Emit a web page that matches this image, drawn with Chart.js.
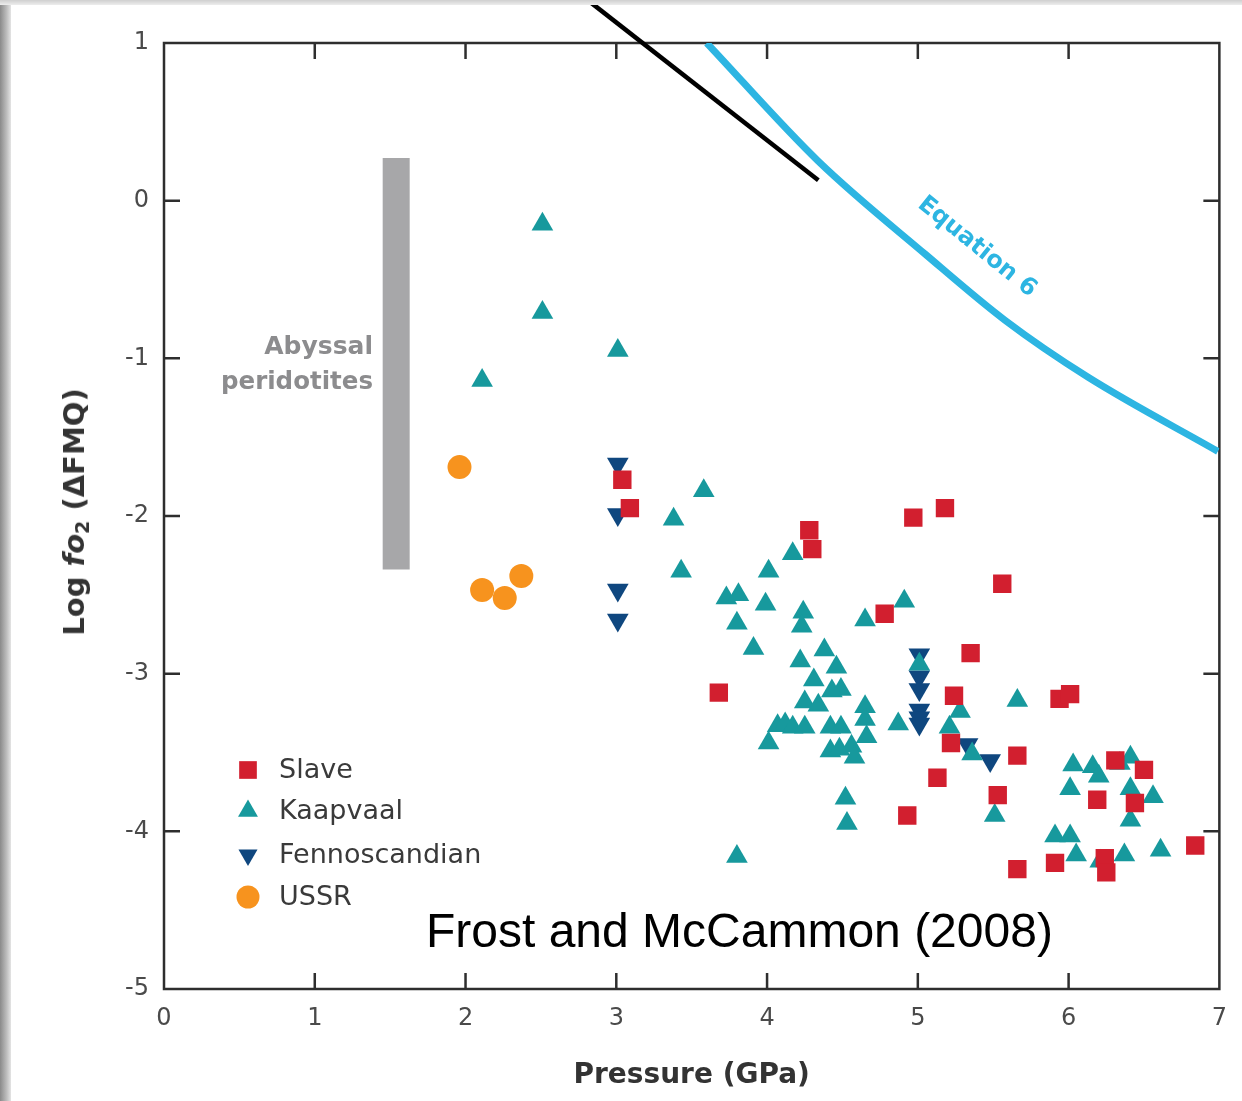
<!DOCTYPE html>
<html>
<head>
<meta charset="utf-8">
<title>Log fO2 vs pressure</title>
<script src="https://cdn.jsdelivr.net/npm/chart.js@4.4.1/dist/chart.umd.min.js"></script>
<style>
  body { margin: 0; background: #fff; }
  #wrap { position: relative; width: 1242px; height: 1101px; overflow: hidden; background: #fff; }
  #edgeLeft { position: absolute; left: 0; top: 0; width: 11px; height: 1101px;
    background: linear-gradient(to right, #8a8a8a, #bdbdbd 60%, #e4e4e4); z-index: 2; }
  #edgeTop { position: absolute; left: 0; top: 0; width: 1242px; height: 5px;
    background: linear-gradient(to bottom, #cfcfcf, #ededed); z-index: 2; }
  canvas { position: absolute; left: 0; top: 0; }
  #yTitle { position: absolute; left: 75px; top: 512px; transform: translate(-50%, -50%) rotate(-90deg);
    font: bold 29px "DejaVu Sans", sans-serif; color: #333; white-space: nowrap; }
  #yTitle sub { font-size: 19px; vertical-align: -5px; }
  #credit { position: absolute; left: 426px; top: 903px; font: 48px "Liberation Sans", Arial, sans-serif;
    color: #000; white-space: nowrap; }
</style>
</head>
<body>
<div id="wrap">
  <canvas id="myChart" width="1242" height="1101"></canvas>
  <div id="edgeLeft"></div>
  <div id="edgeTop"></div>
  <div id="yTitle">Log <i>fo</i><sub>2</sub> (ΔFMQ)</div>
  <div id="credit">Frost and McCammon (2008)</div>
</div>
<script>
// values: pressure (GPa) and log fO2 (ΔFMQ)
const slaveP = [3.04, 3.09, 4.28, 4.30, 4.97, 5.18, 4.78, 5.56, 3.68, 5.35, 5.24, 5.22, 5.66, 5.13,
  5.53, 4.93, 5.94, 6.01, 6.31, 6.50, 6.19, 6.44, 5.66, 5.91, 6.24, 6.25, 6.84];
const slaveF = [-1.77, -1.95, -2.09, -2.21, -2.01, -1.95, -2.62, -2.43, -3.12, -2.87, -3.14, -3.44, -3.52, -3.66,
  -3.77, -3.90, -3.16, -3.13, -3.55, -3.61, -3.80, -3.82, -4.24, -4.20, -4.17, -4.26, -4.09];

const kaapP = [2.51, 2.51, 3.01, 2.11, 3.58, 3.38, 3.43, 4.17, 4.01, 3.73, 3.81, 3.99, 3.80, 4.24,
  4.23, 3.91, 4.65, 4.91, 4.22, 4.38, 4.46, 4.31, 4.49, 4.43, 4.25, 4.34, 4.07, 4.12,
  4.17, 4.25, 4.01, 4.42, 4.49, 4.65, 4.65, 4.66, 4.87, 4.42, 4.48, 4.56, 4.58, 4.52,
  4.53, 3.80, 5.66, 5.28, 5.21, 5.36, 5.51, 5.01, 6.03, 6.16, 6.20, 6.01, 6.34, 6.41,
  6.41, 6.56, 6.41, 5.91, 6.01, 6.05, 6.21, 6.37, 6.61];
const kaapF = [-0.15, -0.71, -0.95, -1.14, -1.84, -2.02, -2.35, -2.24, -2.35, -2.52, -2.50, -2.56, -2.68, -2.61,
  -2.70, -2.84, -2.66, -2.54, -2.92, -2.85, -2.96, -3.04, -3.10, -3.11, -3.18, -3.20, -3.33, -3.32,
  -3.34, -3.34, -3.44, -3.34, -3.34, -3.21, -3.29, -3.40, -3.32, -3.49, -3.48, -3.46, -3.53, -3.79,
  -3.95, -4.16, -3.17, -3.24, -3.34, -3.51, -3.90, -2.94, -3.58, -3.59, -3.65, -3.73, -3.57, -3.53,
  -3.73, -3.78, -3.93, -4.03, -4.03, -4.15, -4.19, -4.15, -4.12];

const fennoP = [3.01, 3.01, 3.01, 3.01, 5.01, 5.01, 5.01, 5.01, 5.01, 5.01, 5.33, 5.48];
const fennoF = [-1.67, -1.99, -2.47, -2.66, -2.88, -3.02, -3.10, -3.23, -3.28, -3.32, -3.45, -3.55];

const ussrP = [1.96, 2.11, 2.26, 2.37];
const ussrF = [-1.69, -2.47, -2.52, -2.38];

// "Equation 6" curve, read at a few points along the line
const eqP = [3.60, 4.34, 5.05, 5.58, 6.13, 6.99];
const eqF = [1.00, 0.25, -0.34, -0.76, -1.12, -1.59];

// abyssal peridotites range (bar) and the pointer line
const abyssalP = [1.54, 1.54];
const abyssalF = [0.27, -2.34];
const pointerP = [2.80, 4.34];
const pointerF = [1.28, 0.13];

const xTicks = [0, 1, 2, 3, 4, 5, 6, 7];
const yTicks = [1, 0, -1, -2, -3, -4, -5];

const colors = {
  slave: "#d21f2f",
  kaap: "#17999d",
  fenno: "#0f477f",
  ussr: "#f7931e",
  eq: "#2db5e2",
  abyssal: "#a7a7a9",
};

function pts(xs, ys) {
  return xs.map((x, i) => ({ x: x, y: ys[i] }));
}

const legendItems = [
  { label: "Slave", style: "rect", rot: 0, r: 12.5, color: colors.slave },
  { label: "Kaapvaal", style: "triangle", rot: 0, r: 11.5, color: colors.kaap },
  { label: "Fennoscandian", style: "triangle", rot: 180, r: 11, color: colors.fenno },
  { label: "USSR", style: "circle", rot: 0, r: 11.5, color: colors.ussr },
];

// frame with inward ticks on all four sides
const framePlugin = {
  id: "frame",
  beforeDatasetsDraw(chart) {
    const { ctx, chartArea: a, scales } = chart;
    ctx.save();
    ctx.strokeStyle = "#2e2e2e";
    ctx.lineWidth = 2.5;
    ctx.strokeRect(a.left, a.top, a.right - a.left, a.bottom - a.top);
    ctx.beginPath();
    xTicks.slice(1, -1).forEach((v) => {
      const px = scales.x.getPixelForValue(v);
      ctx.moveTo(px, a.bottom); ctx.lineTo(px, a.bottom - 16);
      ctx.moveTo(px, a.top); ctx.lineTo(px, a.top + 16);
    });
    yTicks.slice(1, -1).forEach((v) => {
      const py = scales.y.getPixelForValue(v);
      ctx.moveTo(a.left, py); ctx.lineTo(a.left + 16, py);
      ctx.moveTo(a.right, py); ctx.lineTo(a.right - 16, py);
    });
    ctx.stroke();
    ctx.restore();
  },
};

// labels inside the plot and the legend
const notesPlugin = {
  id: "notes",
  afterDraw(chart) {
    const { ctx } = chart;
    ctx.save();

    ctx.fillStyle = "#8c8c8e";
    ctx.font = "bold 25px 'DejaVu Sans'";
    ctx.textAlign = "right";
    ctx.textBaseline = "alphabetic";
    ctx.fillText("Abyssal", 373, 354);
    ctx.font = "bold 24.5px 'DejaVu Sans'";
    ctx.fillText("peridotites", 373, 389);

    // label along the curve
    ctx.translate(977, 247);
    ctx.rotate(39 * Math.PI / 180);
    ctx.fillStyle = colors.eq;
    ctx.font = "bold 24px 'DejaVu Sans'";
    ctx.textAlign = "center";
    ctx.textBaseline = "middle";
    ctx.fillText("Equation 6", 0, 0);
    ctx.setTransform(1, 0, 0, 1, 0, 0);

    // legend
    const rows = [770, 811, 855, 897];
    ctx.font = "27px 'DejaVu Sans'";
    ctx.textAlign = "left";
    ctx.textBaseline = "middle";
    legendItems.forEach((it, i) => {
      ctx.fillStyle = it.color;
      ctx.strokeStyle = it.color;
      Chart.helpers.drawPoint(ctx, { pointStyle: it.style, rotation: it.rot, radius: it.r, borderWidth: 0 }, 248, rows[i]);
      ctx.fillStyle = "#3a3a3a";
      ctx.fillText(it.label, 279, rows[i] + 1);
    });
    ctx.restore();
  },
};

const ctx = document.getElementById("myChart");

new Chart(ctx, {
  type: "scatter",
  data: {
    datasets: [
      {
        label: "pointer",
        type: "line",
        data: pts(pointerP, pointerF),
        borderColor: "#000",
        borderWidth: 4.5,
        pointRadius: 0,
        clip: false,
        order: 0,
      },
      {
        label: "Slave",
        data: pts(slaveP, slaveF),
        pointStyle: "rect",
        pointRadius: 13,
        backgroundColor: colors.slave,
        borderColor: colors.slave,
        borderWidth: 0,
        order: 1,
      },
      {
        label: "Kaapvaal",
        data: pts(kaapP, kaapF),
        pointStyle: "triangle",
        pointRadius: 12.5,
        backgroundColor: colors.kaap,
        borderColor: colors.kaap,
        borderWidth: 0,
        order: 2,
      },
      {
        label: "Fennoscandian",
        data: pts(fennoP, fennoF),
        pointStyle: "triangle",
        rotation: 180,
        pointRadius: 12.5,
        backgroundColor: colors.fenno,
        borderColor: colors.fenno,
        borderWidth: 0,
        order: 3,
      },
      {
        label: "USSR",
        data: pts(ussrP, ussrF),
        pointStyle: "circle",
        pointRadius: 12,
        backgroundColor: colors.ussr,
        borderColor: colors.ussr,
        borderWidth: 0,
        order: 4,
      },
      {
        label: "Equation 6",
        type: "line",
        data: pts(eqP, eqF),
        borderColor: colors.eq,
        borderWidth: 7,
        pointRadius: 0,
        cubicInterpolationMode: "monotone",
        order: 5,
      },
      {
        label: "Abyssal peridotites",
        type: "line",
        data: pts(abyssalP, abyssalF),
        borderColor: colors.abyssal,
        borderWidth: 27,
        borderCapStyle: "butt",
        pointRadius: 0,
        order: 6,
      },
    ],
  },
  options: {
    responsive: false,
    animation: false,
    events: [],
    layout: { padding: { top: 43, right: 20, left: 0, bottom: 0 } },
    plugins: {
      legend: { display: false },
      tooltip: { enabled: false },
    },
    scales: {
      x: {
        type: "linear",
        min: 0,
        max: 7,
        afterFit: (s) => { s.height = 112; },
        afterBuildTicks: (s) => { s.ticks = xTicks.map((v) => ({ value: v })); },
        grid: { display: false, drawTicks: false },
        border: { display: false },
        ticks: { padding: 15, color: "#4a4a4a", font: { family: "DejaVu Sans", size: 24 } },
        title: {
          display: true,
          text: "Pressure (GPa)",
          color: "#333",
          padding: { top: 9, bottom: 8 },
          font: { family: "DejaVu Sans", size: 28, weight: "bold" },
        },
      },
      y: {
        type: "linear",
        min: -5,
        max: 1,
        afterFit: (s) => { s.width = 164; },
        afterBuildTicks: (s) => { s.ticks = yTicks.map((v) => ({ value: v })); },
        grid: { display: false, drawTicks: false },
        border: { display: false },
        ticks: { padding: 15, color: "#4a4a4a", font: { family: "DejaVu Sans", size: 24 } },
      },
    },
  },
  plugins: [framePlugin, notesPlugin],
});
</script>
</body>
</html>
